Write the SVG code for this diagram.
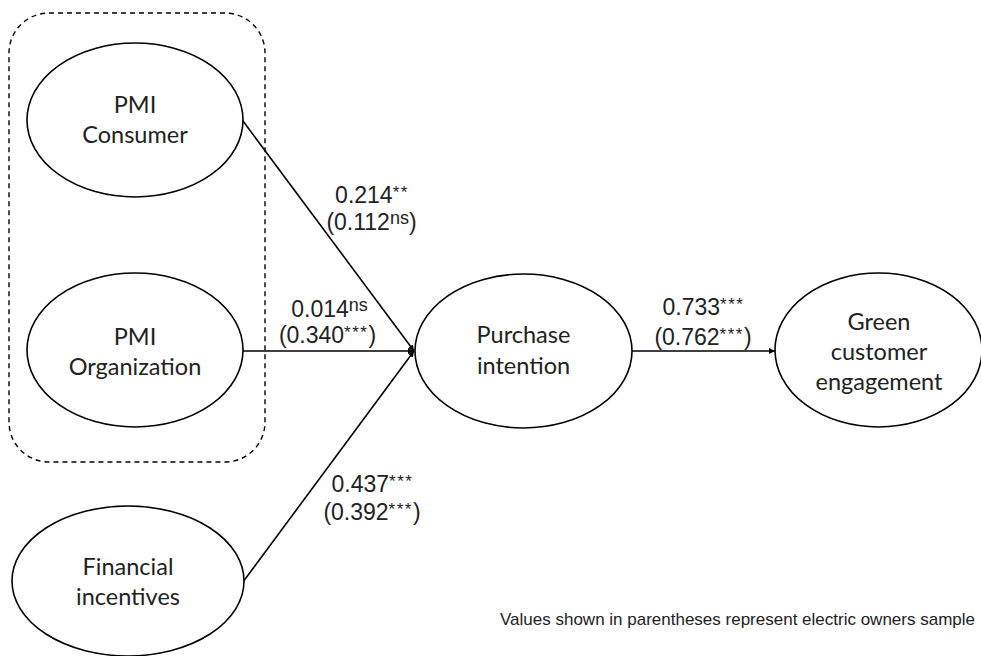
<svg xmlns="http://www.w3.org/2000/svg" width="981" height="656" viewBox="0 0 981 656">
<defs>
<marker id="arr" viewBox="0 0 10 10" refX="10" refY="5" markerWidth="6" markerHeight="6" markerUnits="userSpaceOnUse" orient="auto">
<path d="M0,0 L10,5 L0,10 z" fill="#000"/>
</marker>
<style>
.node ellipse{fill:#fff;stroke:#000;stroke-width:1.6}
.nl{font-family:Lato,"Open Sans",sans-serif;font-size:23.5px;fill:#222;text-anchor:middle}
.el{font-family:"Liberation Sans",Arial,sans-serif;font-size:23px;fill:#222;text-anchor:middle}
.sup{font-size:17px;letter-spacing:1.5px}
.ns{font-size:18px}
.conn line{stroke:#000;stroke-width:1.6;marker-end:url(#arr)}
</style>
</defs>
<rect width="981" height="656" fill="#fff"/>
<g id="group-box">
<rect x="9" y="13" width="256" height="449" rx="40" ry="40" fill="none" stroke="#000" stroke-width="1.4" stroke-dasharray="5,4"/>
</g>
<g id="connectors" class="conn">
<line x1="243" y1="121" x2="414" y2="351"/>
<line x1="243" y1="351" x2="414" y2="351"/>
<line x1="243" y1="582" x2="414" y2="351"/>
<line x1="632" y1="351" x2="775" y2="351"/>
</g>
<g id="pmi-consumer" class="node">
<ellipse cx="135" cy="120" rx="108" ry="77"/>
<text class="nl" x="135" y="113">PMI</text>
<text class="nl" x="135" y="143">Consumer</text>
</g>
<g id="pmi-organization" class="node">
<ellipse cx="135" cy="350" rx="108" ry="77"/>
<text class="nl" x="135" y="345">PMI</text>
<text class="nl" x="135" y="375">Organization</text>
</g>
<g id="financial-incentives" class="node">
<ellipse cx="128" cy="581" rx="116" ry="75"/>
<text class="nl" x="128" y="575">Financial</text>
<text class="nl" x="128" y="605">incentives</text>
</g>
<g id="purchase-intention" class="node">
<ellipse cx="523.5" cy="351" rx="108.5" ry="77"/>
<text class="nl" x="523.5" y="343">Purchase</text>
<text class="nl" x="523.5" y="374">intention</text>
</g>
<g id="green-customer-engagement" class="node">
<ellipse cx="878.5" cy="350" rx="103.5" ry="77"/>
<text class="nl" x="879" y="330">Green</text>
<text class="nl" x="879" y="360">customer</text>
<text class="nl" x="879" y="390">engagement</text>
</g>
<g id="edge-labels">
<text class="el" x="372" y="203">0.214<tspan class="sup" dy="-5">**</tspan></text>
<text class="el" x="371.5" y="230">(0.112<tspan class="ns" dy="-6">ns</tspan><tspan dy="6">)</tspan></text>
<text class="el" x="329.5" y="317">0.014<tspan class="ns" dy="-6">ns</tspan></text>
<text class="el" x="327.5" y="343">(0.340<tspan class="sup" dy="-5">***</tspan><tspan dy="5">)</tspan></text>
<text class="el" x="703.5" y="315">0.733<tspan class="sup" dy="-5">***</tspan></text>
<text class="el" x="703" y="345">(0.762<tspan class="sup" dy="-5">***</tspan><tspan dy="5">)</tspan></text>
<text class="el" x="372.5" y="492">0.437<tspan class="sup" dy="-5">***</tspan></text>
<text class="el" x="372" y="520">(0.392<tspan class="sup" dy="-5">***</tspan><tspan dy="5">)</tspan></text>
</g>
<text id="note" x="975" y="625" font-family="'Liberation Sans',Arial,sans-serif" font-size="17" fill="#222" text-anchor="end">Values shown in parentheses represent electric owners sample</text>
</svg>
